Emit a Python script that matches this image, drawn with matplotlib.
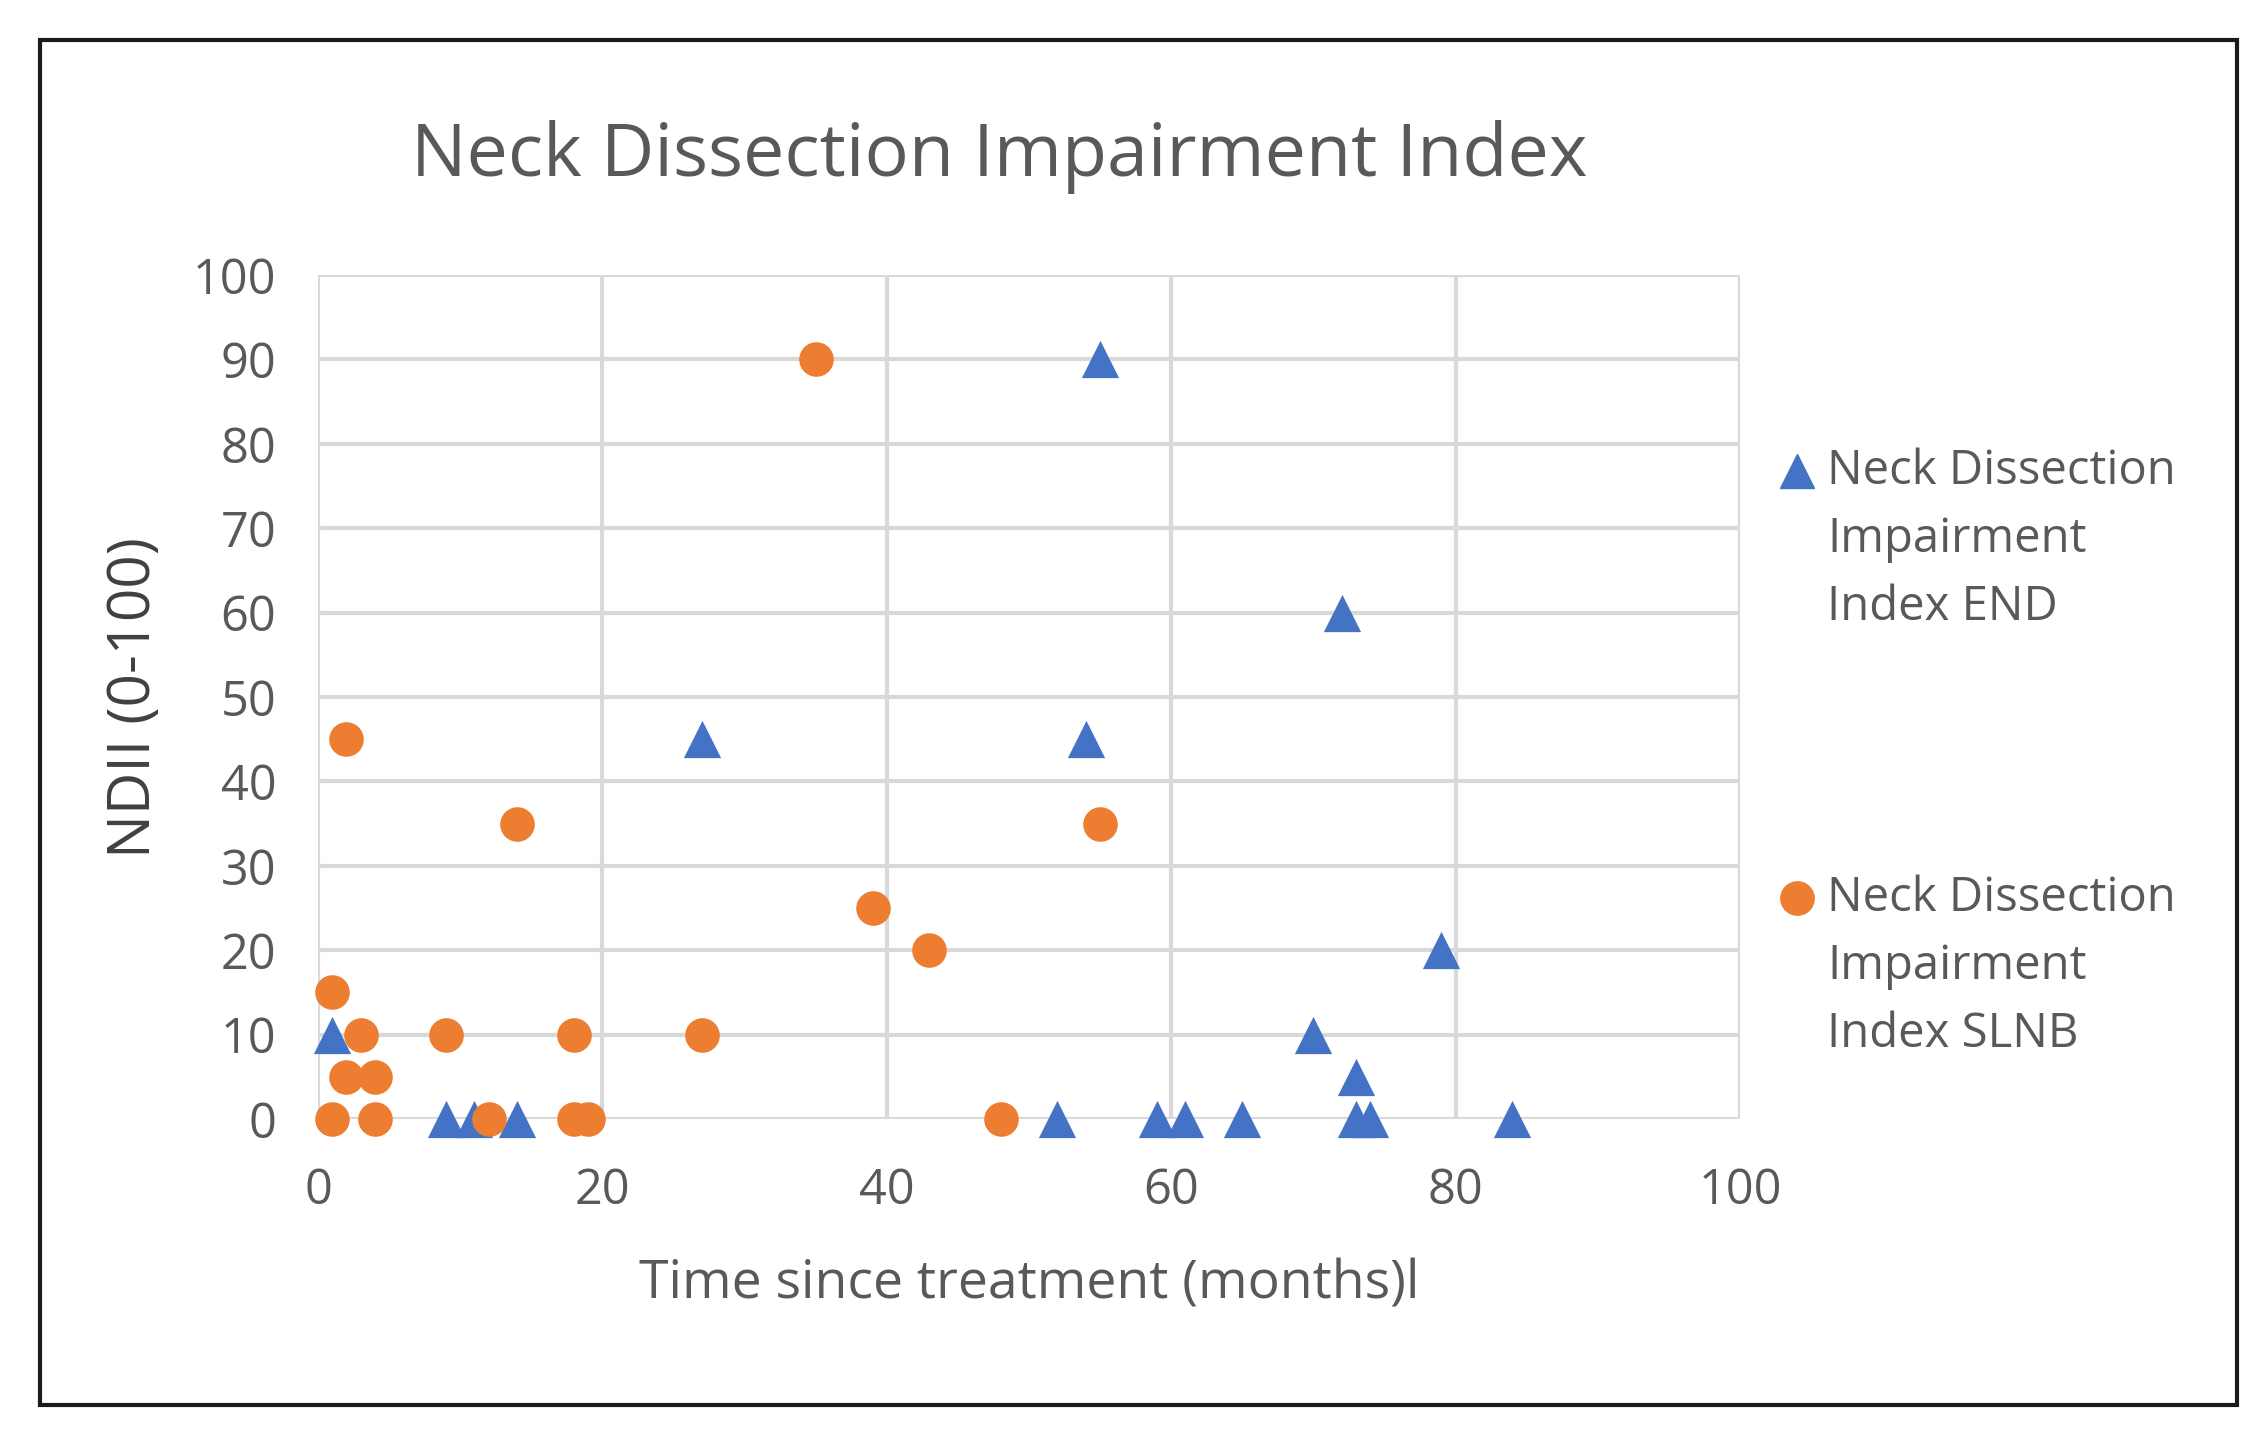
import matplotlib
matplotlib.use("Agg")
import matplotlib.pyplot as plt
from matplotlib.lines import Line2D
from matplotlib.patches import Rectangle

# ── data ──────────────────────────────────────────────────────────────────────
end_x = [1, 9, 11, 14, 27, 52, 54, 55, 59, 61, 65, 70, 72, 73, 73, 74, 79, 84]
end_y = [10, 0, 0, 0, 45, 0, 45, 90, 0, 0, 0, 10, 60, 5, 0, 0, 20, 0]

slnb_x = [1, 1, 2, 2, 3, 4, 4, 9, 12, 14, 18, 18, 19, 27, 35, 39, 43, 48, 55]
slnb_y = [15, 0, 45, 5, 10, 5, 0, 10, 0, 35, 10, 0, 0, 10, 90, 25, 20, 0, 35]

x_ticks = [0, 20, 40, 60, 80, 100]
y_ticks = [0, 10, 20, 30, 40, 50, 60, 70, 80, 90, 100]

legend_end = ["Neck Dissection", "Impairment", "Index END"]
legend_slnb = ["Neck Dissection", "Impairment", "Index SLNB"]

BLUE = "#4472C4"
ORANGE = "#ED7D31"
TXT = "#595959"
GRID = "#d9d9d9"

plt.rcParams["font.family"] = ["Open Sans", "DejaVu Sans"]

W, H = 2259, 1435
fig = plt.figure(figsize=(W / 100, H / 100), dpi=100)
ax = fig.add_axes([318 / W, 1 - 1119 / H, (1740 - 318) / W, (1119 - 275) / H])

ax.scatter(end_x, end_y, marker="^", s=720, color=BLUE, zorder=3, clip_on=False, linewidths=0)
ax.scatter(slnb_x, slnb_y, marker="o", s=620, color=ORANGE, zorder=3, clip_on=False, linewidths=0)

ax.set_xlim(0, 100)
ax.set_ylim(0, 100)
ax.set_xticks(x_ticks)
ax.set_yticks(y_ticks)
ax.grid(True, color=GRID, lw=3)
ax.set_axisbelow(True)
for sp in ax.spines.values():
    sp.set_visible(False)
ax.tick_params(length=0, labelsize=35, labelcolor=TXT)
ax.tick_params(axis="y", pad=30)
ax.tick_params(axis="x", pad=34)

ax.set_xlabel("Time since treatment (months)l", fontsize=38.5, color=TXT)
ax.xaxis.set_label_coords(0.5, -0.165)
ax.xaxis.label.set_va("top")
ax.set_ylabel("NDII (0-100)", fontsize=42, color="#404040")
ax.yaxis.set_label_coords(-0.108, 0.5)

fig.text(999 / W, 1 - 157 / H, "Neck Dissection Impairment Index",
         ha="center", va="center", fontsize=53, color=TXT)

# legend, drawn by hand so the key sits on the first line like Excel does
for y0, lines, mk, col in [(471, legend_end, "^", BLUE), (898, legend_slnb, "o", ORANGE)]:
    fig.add_artist(Line2D([1797 / W], [1 - y0 / H], marker=mk, color=col,
                          markersize=24, lw=0, transform=fig.transFigure))
    for i, s in enumerate(lines):
        fig.text(1827 / W, 1 - (y0 + i * 68) / H, s, ha="left", va="center",
                 fontsize=34, color=TXT)

# outer frame
fig.add_artist(Rectangle((40 / W, 1 - 1405 / H), (2237 - 40) / W, (1405 - 40) / H,
                         fill=False, lw=3, ec="#1a1a1a", transform=fig.transFigure))

fig.savefig("out.png", dpi=100, facecolor="white")
